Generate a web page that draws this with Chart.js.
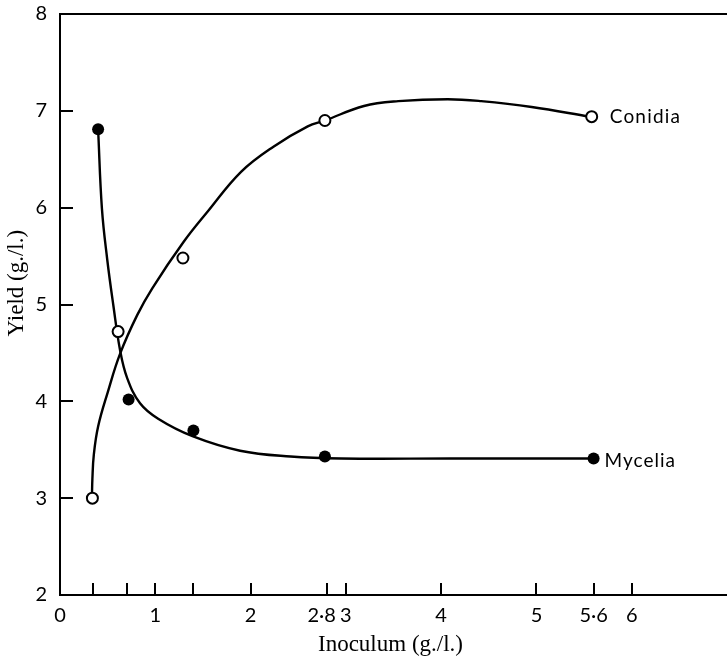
<!DOCTYPE html>
<html>
<head>
<meta charset="utf-8">
<script src="https://cdn.jsdelivr.net/npm/chart.js@4.4.0/dist/chart.umd.min.js"></script>
<style>
    body { margin: 0; background: #fff; }
    canvas { display: block; }
</style>
</head>
<body>
<canvas id="chart" width="727" height="659"></canvas>
<script>
// measured points (inoculum g./l. vs yield g./l.)
const conidiaX = [0.34, 0.61, 1.29, 2.78, 5.58];
const conidiaY = [3.0, 4.72, 5.48, 6.9, 6.94];
const myceliaX = [0.40, 0.72, 1.40, 2.78, 5.6];
const myceliaY = [6.81, 4.02, 3.70, 3.43, 3.41];

// fitted curves
const conidiaCurveX = [0.335, 0.34, 0.355, 0.40, 0.50, 0.63, 0.81, 0.97, 1.3, 1.55, 1.9, 2.24, 2.6, 2.78, 3.19, 3.55, 4.07, 4.42, 4.95, 5.56];
const conidiaCurveY = [3.0, 3.2, 3.45, 3.74, 4.09, 4.49, 4.89, 5.17, 5.65, 5.96, 6.37, 6.63, 6.84, 6.9, 7.05, 7.1, 7.12, 7.1, 7.04, 6.94];
const myceliaCurveX = [0.40, 0.44, 0.495, 0.56, 0.63, 0.705, 0.84, 1.03, 1.39, 1.89, 2.42, 2.95, 4.1, 5.6];
const myceliaCurveY = [6.81, 5.99, 5.47, 4.99, 4.53, 4.24, 3.98, 3.82, 3.64, 3.49, 3.43, 3.41, 3.41, 3.41];

// axis ticks
const xTicks = [0, 0.35, 0.7, 1, 1.4, 2, 2.8, 3, 4, 5, 5.6, 6];
const xTickLabels = ['0', '', '', '1', '', '2', '2·8\u00a0\u00a0', '3', '4', '5', '5·6', '6'];
const yTicks = [2, 3, 4, 5, 6, 7, 8];
const yTickLabels = ['2', '3', '4', '5', '6', '7', '8'];

const toPoints = (xs, ys) => xs.map((x, i) => ({ x: x, y: ys[i] }));

const SANS = 'Lato, "Open Sans", sans-serif';
const SERIF = '"Liberation Serif", "DejaVu Serif", serif';

// inward tick marks, frame top line, axis titles and series names
const decorations = {
    id: 'decorations',
    afterDraw(chart) {
        const ctx = chart.ctx;
        const area = chart.chartArea;
        const xs = chart.scales.x;
        const ys = chart.scales.y;
        ctx.save();
        ctx.strokeStyle = '#000';
        ctx.lineWidth = 2;
        ctx.beginPath();
        ctx.moveTo(area.left, area.top);
        ctx.lineTo(area.right, area.top);
        xTicks.forEach(v => {
            if (v === 0) return;
            const px = Math.round(xs.getPixelForValue(v));
            ctx.moveTo(px, area.bottom);
            ctx.lineTo(px, area.bottom - 12);
        });
        yTicks.forEach(v => {
            if (v === 2 || v === 8) return;
            const py = Math.round(ys.getPixelForValue(v));
            ctx.moveTo(area.left, py);
            ctx.lineTo(area.left + 13, py);
        });
        ctx.stroke();

        ctx.fillStyle = '#000';
        ctx.font = '23px ' + SERIF;
        ctx.textAlign = 'center';
        ctx.textBaseline = 'middle';
        ctx.fillText('Inoculum (g./l.)', (area.left + area.right) / 2 - 3, 645);
        ctx.save();
        ctx.translate(17, ys.getPixelForValue(5.22));
        ctx.rotate(-Math.PI / 2);
        ctx.fillText('Yield (g./l.)', 0, 0);
        ctx.restore();

        ctx.font = '19px ' + SANS;
        ctx.letterSpacing = '1.2px';
        ctx.textAlign = 'left';
        const lc = chart.getDatasetMeta(0).data[conidiaX.length - 1];
        ctx.fillText('Conidia', lc.x + 18, lc.y);
        const lm = chart.getDatasetMeta(1).data[myceliaX.length - 1];
        ctx.letterSpacing = '1px';
        ctx.fillText('Mycelia', lm.x + 11, lm.y + 2);
        ctx.restore();
    }
};

new Chart(document.getElementById('chart'), {
    type: 'scatter',
    data: {
        datasets: [
            {
                label: 'Conidia',
                data: toPoints(conidiaX, conidiaY),
                pointRadius: 5.5,
                pointBorderWidth: 2,
                pointBackgroundColor: '#fff',
                pointBorderColor: '#000',
                order: 0
            },
            {
                label: 'Mycelia',
                data: toPoints(myceliaX, myceliaY),
                pointRadius: 6,
                pointBorderWidth: 0,
                pointBackgroundColor: '#000',
                pointBorderColor: '#000',
                order: 0
            },
            {
                label: 'Conidia curve',
                type: 'line',
                data: toPoints(conidiaCurveX, conidiaCurveY),
                borderColor: '#000',
                borderWidth: 2.4,
                pointRadius: 0,
                tension: 0.4,
                fill: false,
                order: 1
            },
            {
                label: 'Mycelia curve',
                type: 'line',
                data: toPoints(myceliaCurveX, myceliaCurveY),
                borderColor: '#000',
                borderWidth: 2.4,
                pointRadius: 0,
                tension: 0.4,
                fill: false,
                order: 1
            }
        ]
    },
    options: {
        responsive: false,
        animation: false,
        layout: {
            autoPadding: false,
            padding: { top: 14, right: 0, left: 0, bottom: 0 }
        },
        plugins: {
            legend: { display: false },
            tooltip: { enabled: false }
        },
        scales: {
            x: {
                type: 'linear',
                min: 0,
                max: 7,
                afterBuildTicks: scale => {
                    scale.ticks = xTicks.map(v => ({ value: v }));
                },
                afterFit: scale => { scale.height = 64; },
                grid: { display: false },
                border: { display: true, color: '#000', width: 2 },
                ticks: {
                    autoSkip: false,
                    maxRotation: 0,
                    padding: 1,
                    color: '#000',
                    font: { family: SANS, size: 20 },
                    callback: (value, i) => xTickLabels[i]
                }
            },
            y: {
                type: 'linear',
                min: 2,
                max: 8,
                afterBuildTicks: scale => {
                    scale.ticks = yTicks.map(v => ({ value: v }));
                },
                afterFit: scale => {
                    scale.width = 60;
                    scale.paddingTop = 0;
                },
                grid: { display: false },
                border: { display: true, color: '#000', width: 2 },
                ticks: {
                    padding: 5,
                    color: '#000',
                    font: { family: SANS, size: 20 },
                    callback: (value, i) => yTickLabels[i]
                }
            }
        }
    },
    plugins: [decorations]
});
</script>
</body>
</html>
